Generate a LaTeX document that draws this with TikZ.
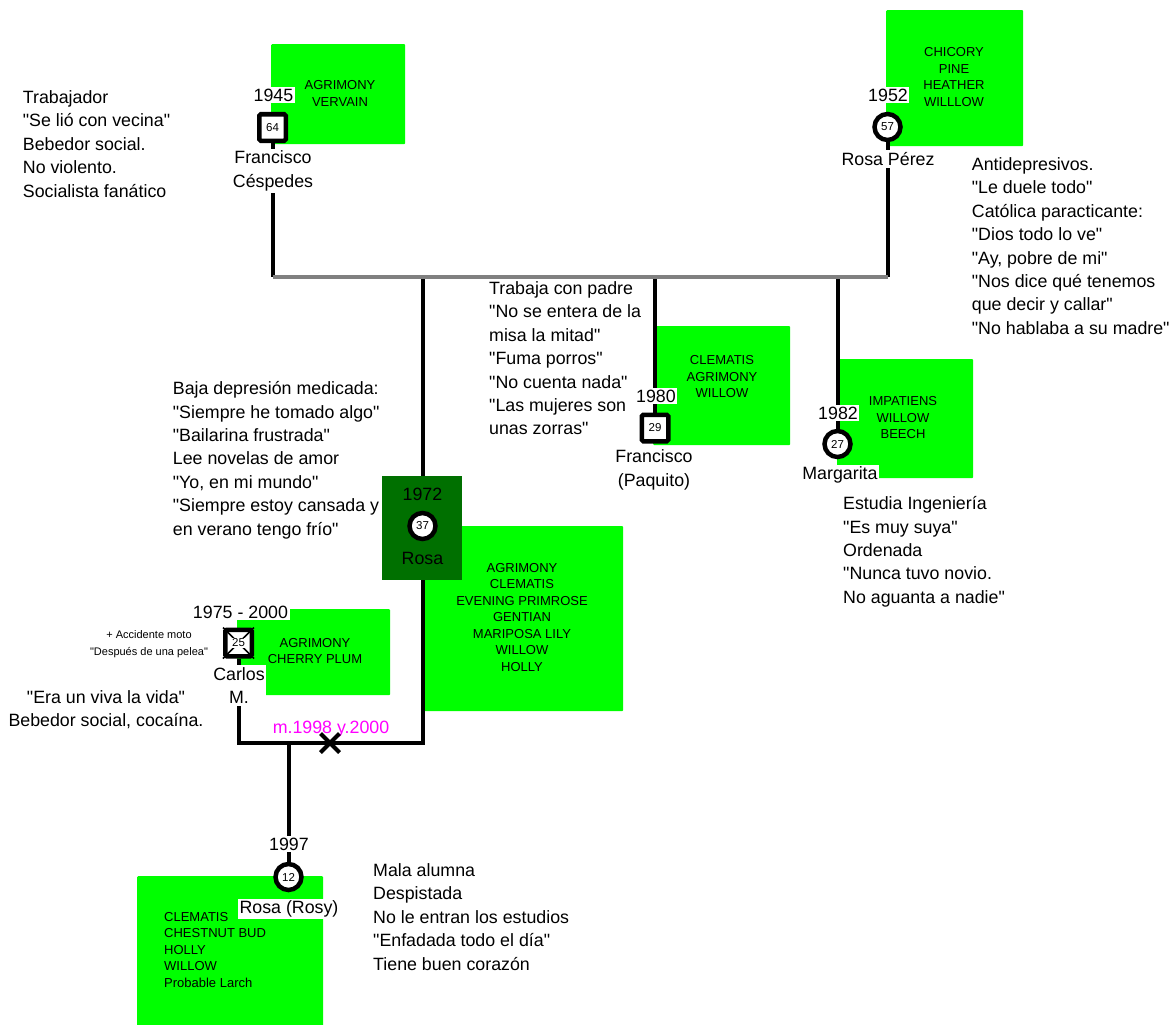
\documentclass[tikz,border=0pt]{standalone}
\usepackage{fontspec}
\setmainfont{Liberation Sans}[Ligatures=TeXOff]
\usetikzlibrary{shapes.misc}

\newcommand\txtfont{\fontsize{17.8}{23.4}\selectfont}
\newcommand\remfont{\fontsize{13}{16.5}\selectfont}
\newcommand\agefont{\fontsize{11.5}{13}\selectfont}
\newcommand\smallnotefont{\fontsize{11}{17}\selectfont}

\definecolor{remedy}{RGB}{0,255,0}
\definecolor{darkrem}{RGB}{0,112,0}
\definecolor{bargray}{RGB}{128,128,128}
\definecolor{marriage}{RGB}{255,0,255}

\pgfdeclarelayer{cards}
\pgfdeclarelayer{links}
\pgfsetlayers{cards,links,main}

\begin{document}
\begin{tikzpicture}[x=1pt,y=-1pt,
  every node/.style={inner sep=0pt, font=\txtfont},
  remedybox/.style={fill=remedy, rounded corners=1pt, anchor=north west},
  remedytext/.style={font=\remfont, align=center},
  kin/.style={line width=4pt},
  sibbar/.style={line width=4pt, draw=bargray},
  male/.style={draw, line width=4.5pt, fill=white, rectangle, rounded corners=1.5pt,
    minimum size=26.5pt, font=\agefont},
  female/.style={draw, line width=4.5pt, fill=white, circle, minimum size=26pt, font=\agefont},
  tag/.style={fill=white, inner xsep=1.5pt, inner ysep=2pt, align=center},
  note/.style={anchor=north west, align=left},
]
\useasboundingbox (0,0) rectangle (1171,1025);

% ---- remedy cards -------------------------------------------------
\begin{pgfonlayer}{cards}
\node[remedybox, minimum width=134pt, minimum height=100pt] (franRem)   at (271,44)  {};
\node[remedybox, minimum width=137pt, minimum height=136pt] (perezRem)  at (886,10)  {};
\node[remedybox, minimum width=137pt, minimum height=119pt] (paqRem)    at (653,326) {};
\node[remedybox, minimum width=136pt, minimum height=119pt] (margRem)   at (837,359) {};
\node[remedybox, minimum width=200pt, minimum height=185pt] (rosaRem)   at (423,526) {};
\node[remedybox, minimum width=153pt, minimum height=86pt]  (carlosRem) at (237,609) {};
\node[remedybox, minimum width=186pt, minimum height=152pt] (rosyRem)   at (137,876) {};
\end{pgfonlayer}

\node[remedytext] (franRemTxt)   at (340,93.5)  {AGRIMONY\\VERVAIN};
\node[remedytext] (perezRemTxt)  at (954,77)    {CHICORY\\PINE\\HEATHER\\WILLLOW};
\node[remedytext] (paqRemTxt)    at (722,377)   {CLEMATIS\\AGRIMONY\\WILLOW};
\node[remedytext] (margRemTxt)   at (903,418)   {IMPATIENS\\WILLOW\\BEECH};
\node[remedytext] (rosaRemTxt)   at (522,617.5) {AGRIMONY\\CLEMATIS\\EVENING PRIMROSE\\GENTIAN\\MARIPOSA LILY\\WILLOW\\HOLLY};
\node[remedytext] (carlosRemTxt) at (315,651)   {AGRIMONY\\CHERRY PLUM};
\node[remedytext, align=left, anchor=west] (rosyRemTxt) at (164,950)
  {CLEMATIS\\CHESTNUT BUD\\HOLLY\\WILLOW\\Probable Larch};

% ---- notes ----------------------------------------------------------
\node[note] (franNote) at (22.7,90.4)
  {Trabajador\\"Se lió con vecina"\\Bebedor social.\\No violento.\\Socialista fanático};
\node[note] (perezNote) at (971.7,157.4)
  {Antidepresivos.\\"Le duele todo"\\Católica paracticante:\\"Dios todo lo ve"\\"Ay, pobre de mi"\\"Nos dice qué tenemos\\que decir y callar"\\"No hablaba a su madre"};
\node[note] (paqNote) at (489,281.4)
  {Trabaja con padre\\"No se entera de la\\misa la mitad"\\"Fuma porros"\\"No cuenta nada"\\"Las mujeres son\\unas zorras"};
\node[note] (rosaNote) at (172.7,381.4)
  {Baja depresión medicada:\\"Siempre he tomado algo"\\"Bailarina frustrada"\\Lee novelas de amor\\"Yo, en mi mundo"\\"Siempre estoy cansada y\\en verano tengo frío"};
\node[note] (margNote) at (843,496.4)
  {Estudia Ingeniería\\"Es muy suya"\\Ordenada\\"Nunca tuvo novio.\\No aguanta a nadie"};
\node[note] (rosyNote) at (373,863.4)
  {Mala alumna\\Despistada\\No le entran los estudios\\"Enfadada todo el día"\\Tiene buen corazón};
\node[anchor=north, align=center] (carlosNote) at (106,690.4)
  {"Era un viva la vida"\\Bebedor social, cocaína.};
\node[anchor=north, align=center, font=\smallnotefont] (accNote) at (149,630)
  {+ Accidente moto\\"Después de una pelea"};

% ---- Rosa's card --------------------------------------------------
\node[fill=darkrem, minimum width=80pt, minimum height=104pt, anchor=north west] (rosaCard) at (382,476) {};

% ---- persons ------------------------------------------------------
\node[male]   (fran)   at (272.5,127.5) {64};
\node[female] (perez)  at (887.5,127)   {57};
\node[male]   (paq)    at (655,428)     {29};
\node[female] (marg)   at (837.5,444)   {27};
\node[female] (rosa)   at (422.5,526)   {37};
\node[male]   (carlos) at (238.5,643)   {};
\draw[line width=1.6pt] (carlos.north west) -- (carlos.south east)
                        (carlos.north east) -- (carlos.south west);
\node[fill=white, font=\agefont, inner sep=0.6pt] (carlosAge) at (carlos) {25};
\node[female] (rosy)   at (288.5,877)   {12};

% ---- years and names ----------------------------------------------
\node[tag] (franYear)    at (273.5,95)   {1945};
\node[tag] (franName)    at (273,171)    {Francisco\\Céspedes};
\node[tag] (perezYear)   at (888,95)     {1952};
\node[tag] (perezName)   at (888,159)    {Rosa Pérez};
\node[tag] (paqYear)     at (656,396)    {1980};
\node[tag] (paqName)     at (654,470)    {Francisco\\(Paquito)};
\node[tag] (margYear)    at (838,413)    {1982};
\node[tag] (margName)    at (840,475)    {Margarita};
\node      (rosaYear)    at (422.5,494)  {1972};
\node      (rosaName)    at (422.5,558)  {Rosa};
\node[tag] (carlosYears) at (240.5,612)  {1975 - 2000};
\node[tag] (carlosName)  at (239,685.5)  {Carlos\\M.};
\node[tag] (rosyYear)    at (289,844)    {1997};
\node[tag] (rosyName)    at (289,909)    {Rosa (Rosy)};

% ---- union of Carlos and Rosa -----------------------------------------
\node[text=marriage] (wedLabel) at (331,729) {m.1998 y.2000};
\node[cross out, draw, line width=4pt, minimum size=15pt] (divorce) at (330,743) {};

% ---- kinship lines -------------------------------------------------
\begin{pgfonlayer}{links}
\coordinate (barL) at (272.5,277);
\coordinate (barR) at (887.5,277);
\coordinate (wedL) at (238.5,743);
\coordinate (wedR) at (422.5,743);
\draw[kin] (fran) -- (barL);
\draw[kin] (perez) -- (barR);
\draw[kin] (paq |- barL) -- (paq);
\draw[kin] (marg |- barL) -- (marg);
\draw[kin] (carlos) -- (wedL) -- (wedR) -- (wedR |- barL);
\draw[kin] (rosy |- wedL) -- (rosy);
\draw[sibbar] (barL) -- (barR);
\end{pgfonlayer}
\end{tikzpicture}
\end{document}
